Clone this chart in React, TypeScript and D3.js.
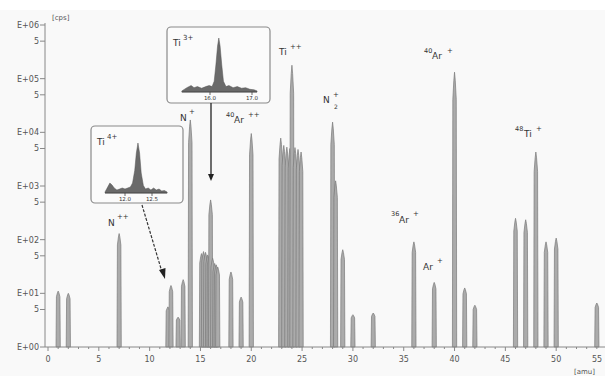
import * as d3 from "d3";

const width = 605;
const height = 376;

// peaks: nominal mass [amu] and intensity [cps]
const peakMass = [1, 2, 7, 11.8, 12.1, 12.8, 13.3, 14, 15.1, 15.3, 15.5, 15.7, 15.85, 16, 16.2, 16.4, 16.55, 16.7, 18, 19, 20, 22.9, 23.2, 23.5, 23.8, 24, 24.3, 24.6, 24.9, 28, 28.3, 29, 30, 32, 36, 38, 40, 41, 42, 46, 47, 48, 49, 50, 54];
const peakCounts = [11, 10, 130, 5.6, 14, 3.6, 18, 17000, 55, 60, 58, 52, 50, 550, 45, 36, 34, 31, 25, 8.5, 9500, 7800, 5700, 5300, 5000, 178000, 5200, 4800, 4300, 15500, 1250, 65, 4, 4.3, 91, 16, 132000, 12.6, 6, 250, 235, 4300, 91, 107, 6.6];

const yTicks = [1, 5, 10, 50, 100, 500, 1000, 5000, 1e4, 5e4, 1e5, 5e5, 1e6];
const xTicks = d3.range(0, 56, 1);
const xLabels = d3.range(0, 56, 5);

// insert Ti4+ (relative intensity)
const ti4Mass = [11.63, 11.68, 11.72, 11.76, 11.8, 11.85, 11.9, 11.95, 12.0, 12.05, 12.1, 12.14, 12.18, 12.21, 12.24, 12.27, 12.3, 12.34, 12.38, 12.43, 12.48, 12.53, 12.58, 12.63, 12.68, 12.73, 12.78];
const ti4Int = [0.02, 0.12, 0.2, 0.16, 0.1, 0.06, 0.08, 0.1, 0.08, 0.1, 0.12, 0.2, 0.45, 0.8, 1.0, 0.8, 0.4, 0.15, 0.08, 0.1, 0.06, 0.1, 0.06, 0.08, 0.04, 0.05, 0.02];

// insert Ti3+
const ti3Mass = [15.33, 15.45, 15.55, 15.62, 15.7, 15.8, 15.9, 15.98, 16.05, 16.1, 16.14, 16.18, 16.21, 16.24, 16.28, 16.32, 16.38, 16.45, 16.55, 16.65, 16.75, 16.85, 16.95, 17.05, 17.12];
const ti3Int = [0.02, 0.08, 0.12, 0.08, 0.1, 0.07, 0.1, 0.12, 0.1, 0.2, 0.5, 0.85, 1.0, 0.85, 0.5, 0.2, 0.1, 0.12, 0.08, 0.1, 0.07, 0.08, 0.05, 0.04, 0.02];

const x = d3.scaleLinear().domain([0, 55]).range([48, 607]);
const y = d3.scaleLog().domain([1, 1e6]).range([347, 25]);

// peak profile (offset in amu, fraction of log height)
const shapeDm = [-0.21, -0.17, -0.07, 0, 0.07, 0.17, 0.21];
const shapeFr = [0, 0.9, 0.97, 1, 0.97, 0.9, 0];

function peakPath(m: number, c: number) {
  const L = Math.log10(c);
  const line = d3.line<number>()
    .x((d, i) => x(m + shapeDm[i]))
    .y((d, i) => y(Math.pow(10, shapeFr[i] * L)));
  return line(shapeDm) + "Z";
}

function Insert({ mass, int, box, xs, ys, label, sup, ticks }: any) {
  const area = d3.area<number>()
    .x((d, i) => xs(mass[i]))
    .y0(ys(0))
    .y1((d) => ys(d));
  const [x0, y0, x1, y1] = box;
  return (
    <g>
      <rect x={x0} y={y0} width={x1 - x0} height={y1 - y0} rx={4} fill="#fbfbfb" stroke="#8a8a8a" strokeWidth={1.2} />
      <text x={x0 + 6} y={y0 + 19} fontSize={9} fill="#333">{label}</text>
      <text x={x0 + 16} y={y0 + 13} fontSize={7} fill="#333">{sup}</text>
      <path d={area(int) || ""} fill="#6a6a6a" stroke="#555" strokeWidth={0.5} />
      <line x1={xs(mass[0])} x2={xs(mass[mass.length - 1])} y1={ys(0)} y2={ys(0)} stroke="#444" strokeWidth={0.8} />
      {ticks.map((t: number) => (
        <g key={t}>
          <line x1={xs(t)} x2={xs(t)} y1={ys(0)} y2={ys(0) + 3} stroke="#444" strokeWidth={0.8} />
          <text x={xs(t)} y={ys(0) + 8} fontSize={5.5} textAnchor="middle" fill="#333">{t.toFixed(1)}</text>
        </g>
      ))}
    </g>
  );
}

export default function App() {
  const ti4x = d3.scaleLinear().domain([12.0, 12.5]).range([125, 152]);
  const ti4y = d3.scaleLinear().domain([0, 1]).range([193, 143]);
  const ti3x = d3.scaleLinear().domain([16, 17]).range([210, 252]);
  const ti3y = d3.scaleLinear().domain([0, 1]).range([92, 38]);

  const yLabel = (v: number) => {
    const e = Math.round(Math.log10(v));
    return Math.abs(Math.log10(v) - e) < 1e-9 ? "E+0" + e : "5";
  };

  return (
    <svg width={width} height={height} style={{ position: "absolute", left: 0, top: 0, fontFamily: "DejaVu Sans, sans-serif" }}>
      <rect width={width} height={height} fill="#f9f9f9" />
      <rect width={width} height={10} fill="#ffffff" />

      {/* peaks */}
      {peakMass.map((m, i) => (
        <path key={i} d={peakPath(m, peakCounts[i])} fill="#ababab" stroke="#7a7a7a" strokeWidth={0.7} />
      ))}

      {/* y axis */}
      <line x1={45} x2={45} y1={y(1e6) - 2} y2={y(1)} stroke="#888" strokeWidth={1} />
      {yTicks.map((t) => (
        <g key={t}>
          <line x1={40} x2={45} y1={y(t)} y2={y(t)} stroke="#888" />
          <text x={39} y={y(t) + 3} fontSize={8} textAnchor="end" fill="#555">{yLabel(t)}</text>
        </g>
      ))}
      <text x={52} y={20} fontSize={7} fill="#555">[cps]</text>

      {/* x axis */}
      <line x1={45} x2={width} y1={y(1)} y2={y(1)} stroke="#888" strokeWidth={1} />
      {xTicks.map((t) => (
        <line key={t} x1={x(t)} x2={x(t)} y1={y(1)} y2={y(1) + (t % 5 === 0 ? 4 : 2)} stroke="#888" />
      ))}
      {xLabels.map((t) => (
        <text key={t} x={t === 55 ? x(t) - 10 : x(t)} y={362} fontSize={8} textAnchor="middle" fill="#555">{t}</text>
      ))}
      <text x={574} y={374} fontSize={7} fill="#555">[amu]</text>

      {/* inserts */}
      <Insert mass={ti4Mass} int={ti4Int} box={[91, 126, 183, 203]} xs={ti4x} ys={ti4y} label="Ti" sup="4+" ticks={[12.0, 12.5]} />
      <Insert mass={ti3Mass} int={ti3Int} box={[167, 27, 270, 103]} xs={ti3x} ys={ti3y} label="Ti" sup="3+" ticks={[16.0, 17.0]} />

      {/* arrows */}
      <line x1={142} y1={205} x2={162} y2={272} stroke="#333" strokeWidth={1.2} strokeDasharray="3,1.5" />
      <path d="M159,270 L165,279 L165.5,268 Z" fill="#222" />
      <line x1={211} y1={103} x2={211} y2={176} stroke="#222" strokeWidth={1.3} />
      <path d="M208,174 L211,181 L214,174 Z" fill="#222" />

      {/* peak labels */}
      <g fill="#333" fontSize={9}>
        <text x={108} y={226}>N</text>
        <text x={117} y={219} fontSize={7}>++</text>
        <text x={180} y={121}>N</text>
        <text x={189} y={114} fontSize={7}>+</text>
        <text x={226} y={117} fontSize={6.5}>40</text>
        <text x={234} y={123}>Ar</text>
        <text x={248} y={117} fontSize={7}>++</text>
        <text x={279} y={55}>Ti</text>
        <text x={290} y={49} fontSize={7}>++</text>
        <text x={323} y={103}>N</text>
        <text x={333} y={97} fontSize={7}>+</text>
        <text x={334} y={109} fontSize={6}>2</text>
        <text x={391} y={216} fontSize={6.5}>36</text>
        <text x={399} y={223}>Ar</text>
        <text x={413} y={216} fontSize={7}>+</text>
        <text x={423} y={270}>Ar</text>
        <text x={437} y={263} fontSize={7}>+</text>
        <text x={424} y={53} fontSize={6.5}>40</text>
        <text x={432} y={59}>Ar</text>
        <text x={447} y={53} fontSize={7}>+</text>
        <text x={515} y={131} fontSize={6.5}>48</text>
        <text x={524} y={137}>Ti</text>
        <text x={536} y={131} fontSize={7}>+</text>
      </g>
    </svg>
  );
}
